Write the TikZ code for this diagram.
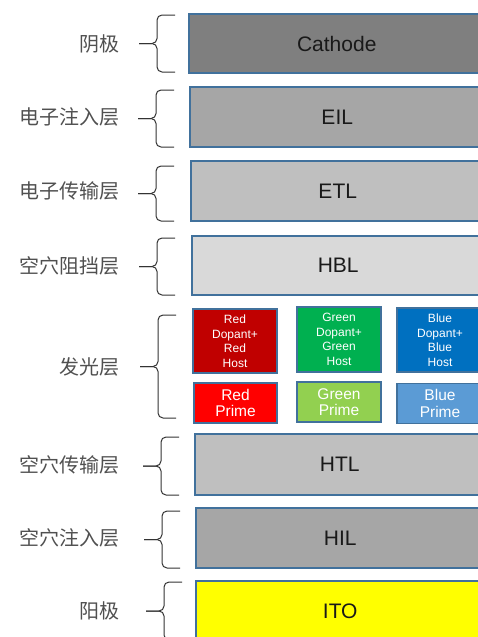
\documentclass[tikz,border=0pt]{standalone}
\usepackage{fontspec}
\setmainfont{Liberation Sans}
\newfontfamily\cjk{Noto Sans CJK SC}
\usetikzlibrary{positioning}
\definecolor{edgeblue}{HTML}{41719C}
\definecolor{lblgray}{HTML}{505050}
\definecolor{cathodegray}{HTML}{7F7F7F}
\definecolor{midgray}{HTML}{A6A6A6}
\definecolor{lightgray}{HTML}{BFBFBF}
\definecolor{palegray}{HTML}{D9D9D9}
\definecolor{redhost}{HTML}{C00000}
\definecolor{greenhost}{HTML}{00B050}
\definecolor{bluehost}{HTML}{0070C0}
\definecolor{redprime}{HTML}{FF0000}
\definecolor{greenprime}{HTML}{92D050}
\definecolor{blueprime}{HTML}{5B9BD5}
\definecolor{itoyellow}{HTML}{FFFF00}
\tikzset{layer/.style={rectangle, draw=edgeblue, line width=1.5pt, anchor=west,
    minimum height=60pt, inner sep=0pt, text=black!90,
    font=\fontsize{21}{24}\selectfont}}
\tikzset{hostbox/.style={rectangle, draw=edgeblue, line width=1.5pt, inner sep=0pt,
    minimum width=84pt, minimum height=64pt, align=center, text=white,
    font=\fontsize{12}{14.5}\selectfont}}
\tikzset{primebox/.style={hostbox, minimum height=40pt,
    font=\fontsize{15.5}{16.5}\selectfont}}
\tikzset{lbl/.style={inner sep=0pt, text=lblgray, font=\cjk\fontsize{20}{24}\selectfont}}
\tikzset{bracestroke/.style={draw=black!80, line width=1pt, rounded corners=5pt}}
% curly brace: right x, top y, bottom y
\newcommand{\curly}[3]{%
  \pgfmathsetmacro{\bmid}{(#2+#3)/2}
  \draw[bracestroke] (#1,#2) -- (#1-18,#2) -- (#1-18,\bmid) -- (#1-36,\bmid);
  \draw[bracestroke] (#1,#3) -- (#1-18,#3) -- (#1-18,\bmid) -- (#1-36,\bmid);}

\begin{document}
\begin{tikzpicture}[x=1pt, y=-1pt]
		\useasboundingbox (0,0) rectangle (477,637);
		% layers
		\node[layer, fill=cathodegray, minimum width=296pt, minimum height=59pt] (cathode) at (188,43.5) {Cathode};
		\node[layer, fill=midgray, minimum width=295pt] (eil) at (189,117) {EIL};
		\node[layer, fill=lightgray, minimum width=294pt] (etl) at (190,191) {ETL};
		\node[layer, fill=palegray, minimum width=293pt, minimum height=59pt] (hbl) at (191,265.5) {HBL};
		\node[layer, fill=lightgray, minimum width=290pt, minimum height=61pt] (htl) at (194,464.5) {HTL};
		\node[layer, fill=midgray, minimum width=289pt] (hil) at (195,538) {HIL};
		\node[layer, fill=itoyellow, minimum width=289pt] (ito) at (195,611) {ITO};
		% emissive layer
		\node[hostbox, fill=redhost] (red) at (235,341) {Red\\Dopant+\\Red\\Host};
		\node[hostbox, fill=greenhost, minimum height=65pt] (green) at (339,339.5) {Green\\Dopant+\\Green\\Host};
		\node[hostbox, fill=bluehost, minimum width=86pt] (blue) at (440,340) {Blue\\Dopant+\\Blue\\Host};
		\node[primebox, fill=redprime, minimum width=83pt] (redp) at (235.5,403) {Red\\Prime};
		\node[primebox, fill=greenprime] (greenp) at (339,402) {Green\\Prime};
		\node[primebox, fill=blueprime, minimum width=86pt] (bluep) at (440,403.5) {Blue\\Prime};
		\coordinate (eml) at (194,366.5);
		% braces
		\curly{175}{15}{72}
		\curly{174}{90}{147}
		\curly{174}{166}{221}
		\curly{175}{238}{295}
		\curly{176}{315}{418}
		\curly{179}{437}{495}
		\curly{180}{511}{568}
		\curly{182}{582}{640}
		% labels
		\node[lbl, left=68pt of cathode] (cathode-lbl) {阴极};
		\node[lbl, left=69pt of eil] (eil-lbl) {电子注入层};
		\node[lbl, left=70pt of etl] (etl-lbl) {电子传输层};
		\node[lbl, left=71pt of hbl] (hbl-lbl) {空穴阻挡层};
		\node[lbl, left=74pt of eml] (eml-lbl) {发光层};
		\node[lbl, left=74pt of htl] (htl-lbl) {空穴传输层};
		\node[lbl, left=75pt of hil] (hil-lbl) {空穴注入层};
		\node[lbl, left=75pt of ito] (ito-lbl) {阳极};
\end{tikzpicture}
\end{document}
